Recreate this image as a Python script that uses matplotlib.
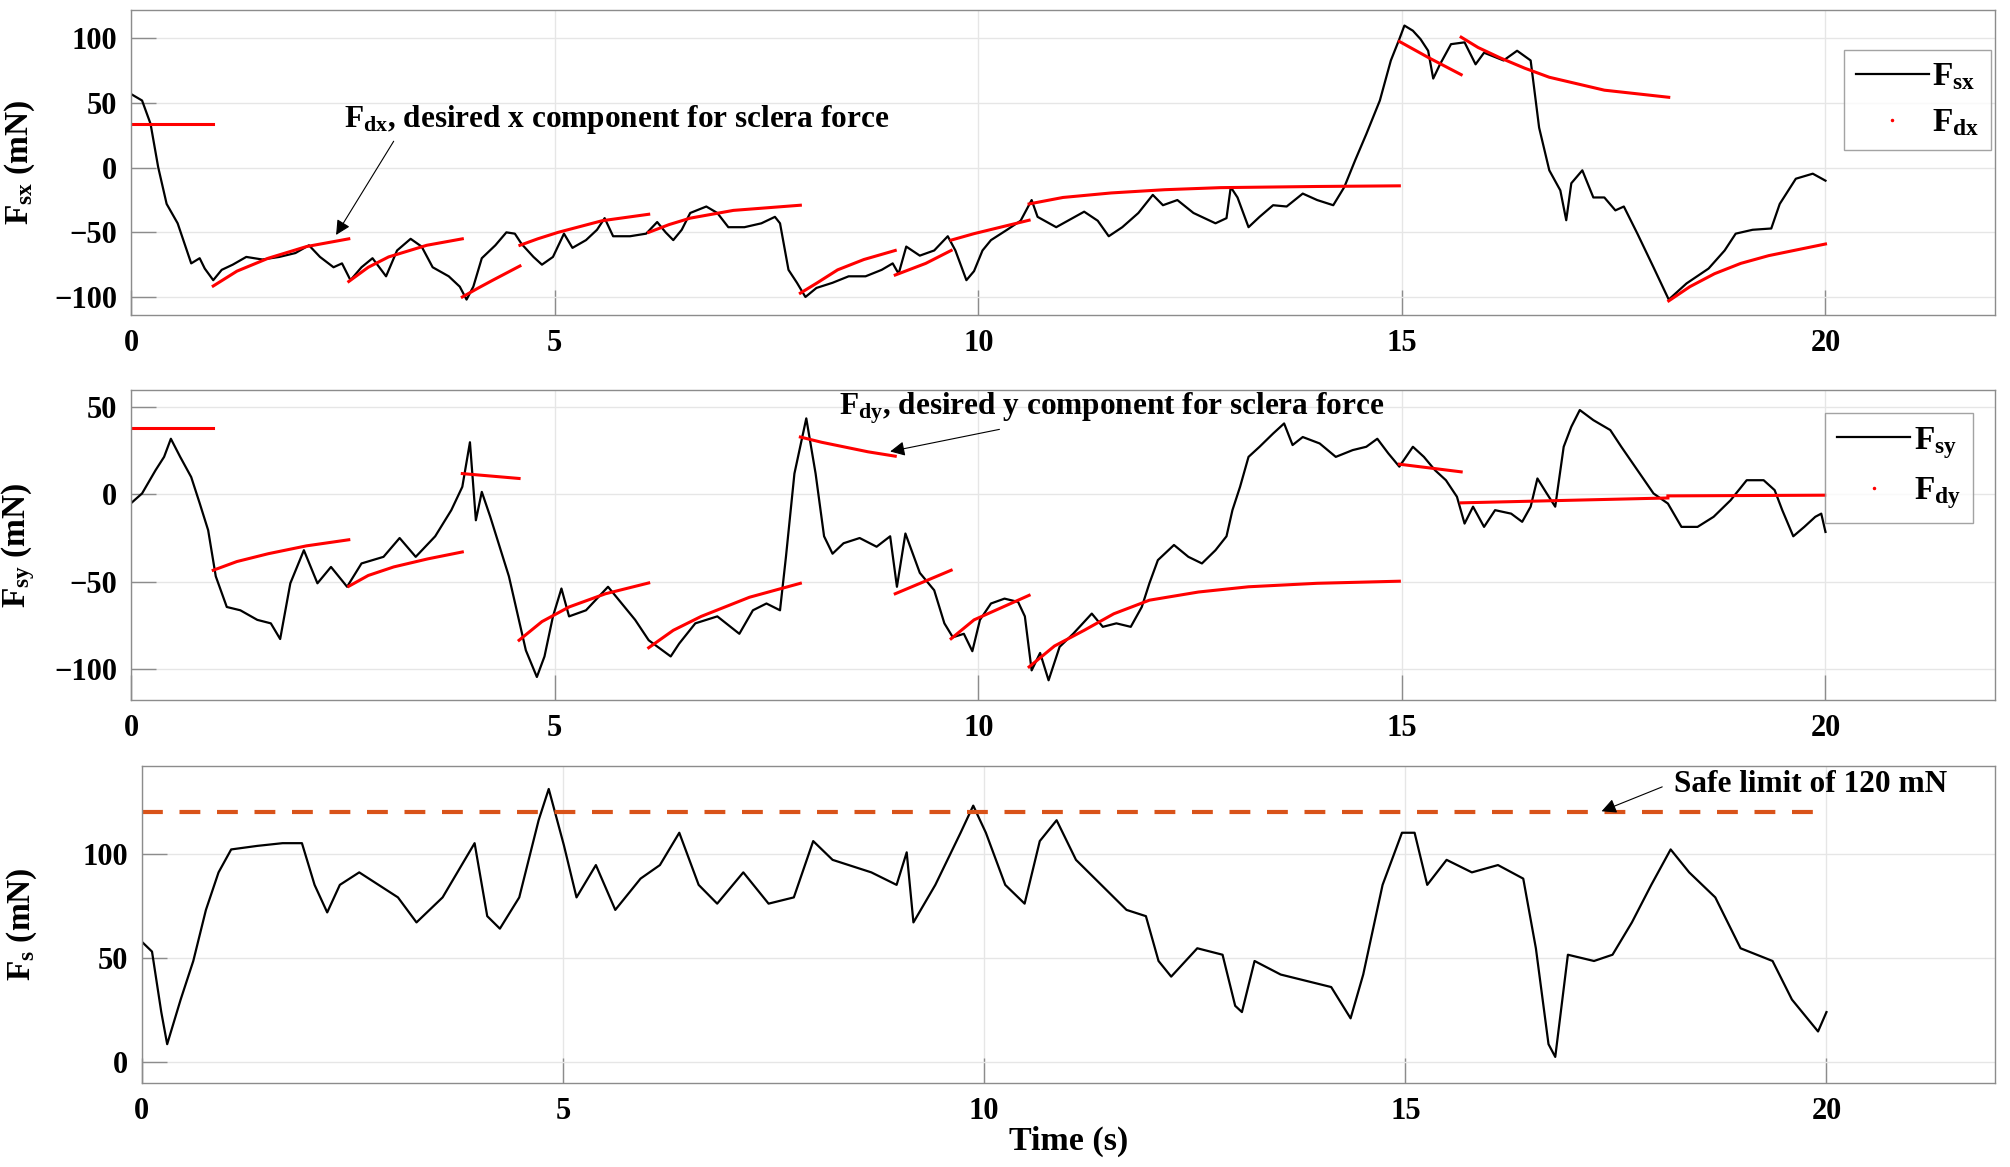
import numpy as np
import matplotlib
matplotlib.use("Agg")
import matplotlib.pyplot as plt
from matplotlib.lines import Line2D

plt.rcParams['font.family'] = 'Liberation Serif'
plt.rcParams['font.weight'] = 'bold'
plt.rcParams['mathtext.fontset'] = 'custom'
plt.rcParams['mathtext.rm'] = 'Liberation Serif:bold'
plt.rcParams['mathtext.it'] = 'Liberation Serif:bold'
plt.rcParams['mathtext.bf'] = 'Liberation Serif:bold'

# ---------------- measured sclera force, x component ----------------
t_sx = [0, 0.13, 0.23, 0.32, 0.42, 0.55, 0.71, 0.81, 0.87, 0.97, 1.07, 1.2, 1.36, 1.55, 1.75,
        1.94, 2.10, 2.23, 2.39, 2.49, 2.59, 2.72, 2.85, 3.01, 3.14, 3.30, 3.43, 3.56, 3.75,
        3.88, 3.96, 4.04, 4.14, 4.30, 4.43, 4.53, 4.61, 4.75, 4.85, 4.98, 5.11, 5.21, 5.37,
        5.50, 5.59, 5.69, 5.89, 6.08, 6.21, 6.31, 6.40, 6.50, 6.60, 6.79, 6.92, 7.05, 7.24,
        7.44, 7.60, 7.66, 7.76, 7.86, 7.96, 8.09, 8.28, 8.47, 8.67, 8.86, 8.99, 9.06, 9.15,
        9.31, 9.48, 9.64, 9.73, 9.86, 9.95, 10.05, 10.15, 10.34, 10.5, 10.63, 10.7, 10.92,
        11.25, 11.41, 11.54, 11.70, 11.89, 12.06, 12.18, 12.35, 12.54, 12.80, 12.93, 12.98,
        13.06, 13.19, 13.32, 13.48, 13.64, 13.83, 14.0, 14.19, 14.32, 14.45, 14.58, 14.74,
        14.87, 14.97, 15.03, 15.13, 15.22, 15.31, 15.37, 15.45, 15.58, 15.74, 15.87, 15.97,
        16.2, 16.36, 16.52, 16.62, 16.74, 16.87, 16.94, 17.0, 17.13, 17.26, 17.39, 17.52,
        17.62, 17.78, 17.97, 18.15, 18.36, 18.62, 18.81, 18.94, 19.14, 19.36, 19.46, 19.65,
        19.85, 20.0]
f_sx = [57, 52, 34, 0.5, -28, -43, -74, -70, -78, -87, -79, -75, -69, -71, -69,
        -66, -60, -69, -77, -74, -87, -77, -70, -84, -64, -55, -61, -77, -84,
        -92, -102, -92, -70, -60, -50, -51, -59, -69, -75, -69, -51, -62, -56,
        -48, -39, -53, -53, -51, -42, -50, -56, -48, -35, -30, -35, -46, -46,
        -43, -38, -43, -79, -89, -100, -93, -89, -84, -84, -79, -74, -82, -61,
        -68, -64, -53, -64, -87, -80, -64, -56, -48, -41, -25, -38, -46,
        -34, -41, -53, -46, -35, -21, -29, -25, -35, -43, -39, -15,
        -23, -46, -38, -29, -30, -20, -25, -29, -15, 6, 26, 52,
        83, 99.5, 110, 106, 99.5, 90.5, 69, 80, 95.6, 97, 80, 89,
        83, 90.5, 83, 31, -2, -17.5, -40.6, -12, -2, -23, -23, -33,
        -30, -51, -77, -102, -89.5, -78, -64, -51, -48, -47, -28, -8.5,
        -4.6, -10]

# desired x component, one list per segment
t_dx = [[0, 0.97],
        [0.97, 1.25, 1.62, 2.07, 2.57],
        [2.57, 2.8, 3.04, 3.49, 3.91],
        [3.91, 4.1, 4.27, 4.59],
        [4.59, 4.8, 5.04, 5.56, 6.11],
        [6.11, 6.35, 6.60, 7.11, 7.90],
        [7.90, 8.1, 8.34, 8.65, 9.02],
        [9.02, 9.38, 9.68],
        [9.68, 9.95, 10.6],
        [10.6, 11.0, 11.57, 12.2, 12.86, 14.0, 14.97],
        [14.97, 15.32, 15.70],
        [15.70, 15.9, 16.16, 16.45, 16.74, 17.39, 18.15],
        [18.15, 18.4, 18.69, 19.0, 19.33, 20.0]]
f_dx = [[34, 34],
        [-91.5, -80, -70, -61, -55],
        [-88, -77, -69, -60, -55],
        [-100, -93, -87, -76],
        [-60, -55, -50, -41, -36],
        [-50, -44, -39, -33, -29],
        [-97, -89, -79, -71, -64],
        [-83, -74, -64],
        [-56, -51, -40.6],
        [-28, -23, -19.5, -17, -15.4, -14.5, -14],
        [97.7, 85, 72],
        [101, 93, 85, 77, 70, 60, 54.5],
        [-103, -92, -82, -74, -68, -59]]

# ---------------- measured sclera force, y component ----------------
t_sy = [0, 0.13, 0.29, 0.39, 0.47, 0.58, 0.71, 0.81, 0.91, 1.0, 1.13, 1.29, 1.49, 1.65,
        1.76, 1.88, 2.04, 2.2, 2.36, 2.55, 2.72, 2.98, 3.17, 3.36, 3.59, 3.78, 3.91, 4.0,
        4.07, 4.14, 4.24, 4.46, 4.66, 4.79, 4.88, 4.98, 5.08, 5.17, 5.37, 5.63, 5.76, 5.95,
        6.11, 6.37, 6.47, 6.66, 6.92, 7.18, 7.34, 7.50, 7.66, 7.73, 7.83, 7.97, 8.08, 8.18,
        8.28, 8.41, 8.60, 8.80, 8.96, 9.04, 9.14, 9.31, 9.48, 9.6, 9.70, 9.83, 9.93, 10.02,
        10.15, 10.31, 10.47, 10.55, 10.63, 10.73, 10.83, 10.96, 11.12, 11.34, 11.47, 11.63,
        11.8, 11.93, 12.02, 12.12, 12.31, 12.48, 12.64, 12.80, 12.93, 13.0, 13.09, 13.19,
        13.32, 13.48, 13.61, 13.71, 13.83, 14.03, 14.22, 14.42, 14.58, 14.71, 14.84, 14.97,
        15.13, 15.26, 15.39, 15.52, 15.65, 15.74, 15.84, 15.97, 16.1, 16.29, 16.42, 16.52,
        16.6, 16.71, 16.81, 16.91, 17.0, 17.1, 17.26, 17.46, 17.59, 17.78, 17.97, 18.14,
        18.3, 18.49, 18.68, 18.88, 19.07, 19.27, 19.4, 19.49, 19.62, 19.75, 19.88, 19.95,
        20.0]
f_sy = [-5, 0.6, 14, 21.6, 32, 21.6, 10, -5, -20.5, -47, -64.6, -66.5, -72, -74,
        -83, -51, -32, -51, -41.6, -53, -39.6, -35.8, -25, -35.8, -24, -9, 4.4, 30,
        -14.8, 1.5, -12.8, -47, -89.5, -104.8, -93, -70, -54, -70, -66.5, -53, -60.7, -72,
        -83.7, -93, -85.6, -74, -70, -80, -66.5, -62.6, -66.5, -35.8, 12, 43.7, 12, -24,
        -34, -28, -25, -30, -24, -53, -22.4, -45, -55, -74, -82, -80, -90, -72,
        -62.6, -59.8, -61.7, -70, -101, -91, -106.7, -87.5, -80, -68.4, -76, -74,
        -76, -64.6, -51, -37.7, -29, -35.8, -39.6, -32, -24, -9, 4.4, 21.6,
        27.4, 35, 40.8, 28.4, 33, 29.3, 21.6, 25.5, 27.4, 32, 23.6, 16,
        27.4, 21.6, 14, 8.2, -1.3, -16.7, -7, -18.6, -9, -11, -15.7, -7,
        9.2, 0.6, -7, 27.4, 38.9, 48.5, 42.7, 37, 27.4, 14, 0.6, -5.2,
        -18.6, -18.6, -12.8, -3.3, 8.2, 8.2, 2.5, -9, -24, -18.6, -12.8, -11,
        -21.5]

t_dy = [[0, 0.97],
        [0.97, 1.25, 1.62, 2.07, 2.57],
        [2.57, 2.8, 3.1, 3.5, 3.91],
        [3.91, 4.58],
        [4.58, 4.85, 5.17, 5.6, 6.11],
        [6.11, 6.4, 6.73, 7.3, 7.90],
        [7.90, 8.15, 8.41, 8.7, 9.02],
        [9.02, 9.68],
        [9.68, 9.95, 10.6],
        [10.6, 10.9, 11.25, 11.6, 12.02, 12.6, 13.19, 14.0, 14.97],
        [14.97, 15.7],
        [15.7, 18.14],
        [18.14, 20.0]]
f_dy = [[38.3, 38.3],
        [-43.5, -38.5, -34, -29.5, -26],
        [-52.7, -46.5, -41.6, -37, -33],
        [12, 9.2],
        [-83.7, -73, -64.6, -57, -50.8],
        [-88, -78, -70, -59, -51],
        [33, 30, 27.4, 24.5, 22],
        [-57, -43.5],
        [-82.8, -72, -57.9],
        [-99, -87, -78, -68.5, -60.7, -56, -53, -51, -49.8],
        [17.4, 13],
        [-4.8, -2],
        [-0.8, -0.4]]

# ---------------- measured sclera force magnitude ----------------
t_s = [0, 0.12, 0.23, 0.3, 0.46, 0.61, 0.76, 0.91, 1.06, 1.37, 1.67, 1.9, 2.05, 2.2, 2.35,
       2.58, 2.81, 3.04, 3.26, 3.57, 3.95, 4.1, 4.25, 4.48, 4.71, 4.83, 5.01, 5.16, 5.39,
       5.62, 5.92, 6.15, 6.38, 6.61, 6.83, 7.14, 7.44, 7.74, 7.97, 8.2, 8.66, 8.96, 9.08,
       9.16, 9.42, 9.72, 9.87, 10.02, 10.25, 10.48, 10.66, 10.86, 11.09, 11.39, 11.69,
       11.92, 12.07, 12.22, 12.53, 12.83, 12.98, 13.06, 13.21, 13.52, 13.82, 14.12, 14.35,
       14.5, 14.73, 14.96, 15.11, 15.26, 15.49, 15.79, 16.1, 16.4, 16.55, 16.7, 16.78,
       16.93, 17.24, 17.46, 17.69, 17.92, 18.15, 18.37, 18.68, 18.98, 19.36, 19.59, 19.9,
       20.0]
f_s = [57.7, 53, 24, 8.6, 30, 48.5, 73, 91, 102, 103.7, 105, 105, 85, 71.8, 85,
       91, 85, 79, 67, 79, 105, 70, 64, 79, 116, 131, 104, 79, 94.5,
       73, 88, 94.5, 110, 85, 76, 91, 76, 79, 106, 97, 91, 85, 100.6,
       67, 85, 110, 123, 110, 85, 76, 106, 116, 97, 85, 73,
       70, 48.5, 41, 54.6, 51.5, 27, 24, 48.5, 42, 39, 36, 21,
       42, 85, 110, 110, 85, 97, 91, 94.5, 88, 54.6, 8.6, 2.5,
       51.5, 48.5, 51.5, 67, 85, 102, 91, 79, 54.6, 48.5, 30, 14.7,
       24]

safe_limit = 120
x_ticks = [0, 5, 10, 15, 20]

fig = plt.figure(figsize=(20.1, 11.67), dpi=100)
ax1 = fig.add_axes([0.0652, 0.730, 0.9273, 0.2614])
ax2 = fig.add_axes([0.0652, 0.4002, 0.9273, 0.2656])
ax3 = fig.add_axes([0.0706, 0.072, 0.9219, 0.2716])

grey = '#8c8c8c'


def style(ax, ylim, yticks):
    ax.set_xlim(0, 22)
    ax.set_ylim(*ylim)
    ax.set_xticks(x_ticks)
    ax.set_yticks(yticks)
    ax.grid(True, color='#e6e6e6', lw=1.0)
    ax.set_axisbelow(True)
    ax.tick_params(direction='in', length=18, width=1.0, color=grey,
                   labelsize=22, pad=10)
    for sp in ax.spines.values():
        sp.set_color(grey)
        sp.set_linewidth(1.0)
    for lab in ax.get_xticklabels() + ax.get_yticklabels():
        lab.set_fontweight('bold')


red_proxy = Line2D([], [], color='red', marker='.', markersize=3, linestyle='none')
leg_kw = dict(loc='upper right', fontsize=24, frameon=True, fancybox=False,
              edgecolor=grey, handlelength=2.2, borderpad=0.35, labelspacing=0.45,
              handletextpad=0.1, borderaxespad=0)
arrow_kw = dict(arrowstyle='-|>', color='black', lw=0.8, mutation_scale=22,
                shrinkA=0, shrinkB=0)

# panel 1
ax1.plot(t_sx, f_sx, color='black', lw=1.6)
for tt, ff in zip(t_dx, f_dx):
    ax1.plot(tt, ff, color='red', lw=2.2)
style(ax1, (-114, 122), [-100, -50, 0, 50, 100])
ax1.set_ylabel(r'F$_{\rm sx}$ (mN)', fontsize=24, fontweight='bold')
ax1.yaxis.set_label_coords(-0.0505, 0.5)
ax1.legend([Line2D([], [], color='black', lw=1.6), red_proxy],
           [r'F$_{\rm sx}$', r'F$_{\rm dx}$'], bbox_to_anchor=(0.998, 0.869), **leg_kw)
ax1.annotate('', xy=(2.42, -52), xytext=(3.1, 20.5), arrowprops=arrow_kw)
ax1.text(2.51, 37.5, r'F$_{\rm dx}$, desired x component for sclera force', fontsize=22.5,
         fontweight='bold', va='center', ha='left')

# panel 2
ax2.plot(t_sy, f_sy, color='black', lw=1.6)
for tt, ff in zip(t_dy, f_dy):
    ax2.plot(tt, ff, color='red', lw=2.2)
style(ax2, (-118, 60), [-100, -50, 0, 50])
ax2.set_ylabel(r'F$_{\rm sy}$ (mN)', fontsize=24, fontweight='bold')
ax2.yaxis.set_label_coords(-0.0505, 0.5)
ax2.legend([Line2D([], [], color='black', lw=1.6), red_proxy],
           [r'F$_{\rm sy}$', r'F$_{\rm dy}$'], bbox_to_anchor=(0.988, 0.926), **leg_kw)
ax2.annotate('', xy=(8.96, 24.7), xytext=(10.25, 37.4), arrowprops=arrow_kw)
ax2.text(8.36, 49.4, r'F$_{\rm dy}$, desired y component for sclera force', fontsize=22.5,
         fontweight='bold', va='center', ha='left')

# panel 3
ax3.plot(t_s, f_s, color='black', lw=1.6)
ax3.plot([0, 20], [safe_limit, safe_limit], color='#D95319', lw=3, dashes=(5, 4))
style(ax3, (-10, 142), [0, 50, 100])
ax3.set_ylabel(r'F$_{\rm s}$ (mN)', fontsize=24, fontweight='bold')
ax3.yaxis.set_label_coords(-0.0555, 0.5)
ax3.set_xlabel('Time (s)', fontsize=24.5, fontweight='bold', labelpad=0)
ax3.annotate('', xy=(17.33, 120.3), xytext=(18.05, 132), arrowprops=arrow_kw)
ax3.text(18.19, 133, 'Safe limit of 120 mN', fontsize=22.5, fontweight='bold',
         va='center', ha='left')

fig.savefig('out.png', dpi=100)
